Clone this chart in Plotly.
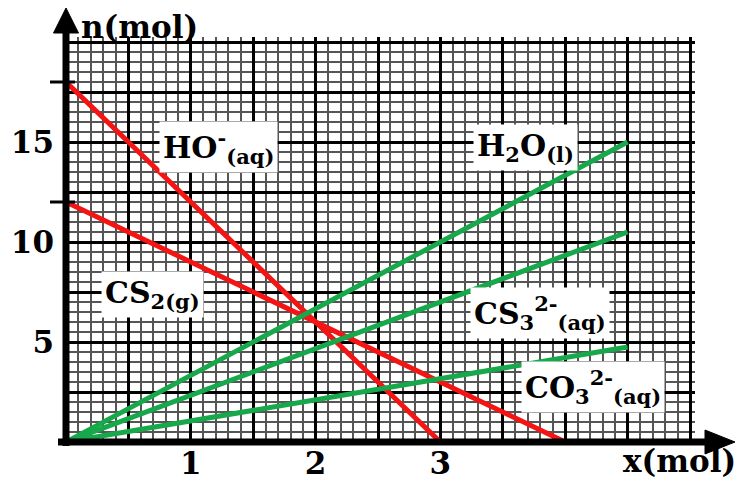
import numpy as np
import plotly.graph_objects as go

# ---- data ----
x_end_red_HO = [0, 3]
HO_vals = [18, 0]
x_end_red_CS2 = [0, 4]
CS2_vals = [12, 0]
x_green = [0, 4.5]
H2O_vals = [0, 15]
CS3_vals = [0, 10.5]
CO3_vals = [0, 4.75]

x_tick_vals = [1, 2, 3]
x_tick_text = ["1", "2", "3"]
y_tick_vals = [5, 10, 15]
y_tick_text = ["5", "10", "15"]
y_marks = [12, 18]

labels = ["HO<sup>-</sup><sub>(aq)</sub>", "H<sub>2</sub>O<sub>(l)</sub>", "CS<sub>2(g)</sub>",
          "CS<sub>3</sub><sup>2-</sup><sub>(aq)</sub>", "CO<sub>3</sub><sup>2-</sup><sub>(aq)</sub>"]
label_x = [1.22, 3.68, 0.69, 3.80, 4.22]
label_y = [14.75, 14.75, 7.4, 6.45, 2.75]

RED = "#f41414"
GREEN = "#17a84b"
FONT = "DejaVu Serif"

fig = go.Figure()
fig.add_trace(go.Scatter(x=x_end_red_HO, y=HO_vals, mode="lines", line=dict(color=RED, width=5), name="HO-"))
fig.add_trace(go.Scatter(x=x_end_red_CS2, y=CS2_vals, mode="lines", line=dict(color=RED, width=5), name="CS2"))
fig.add_trace(go.Scatter(x=x_green, y=H2O_vals, mode="lines", line=dict(color=GREEN, width=5), name="H2O"))
fig.add_trace(go.Scatter(x=x_green, y=CS3_vals, mode="lines", line=dict(color=GREEN, width=5), name="CS3"))
fig.add_trace(go.Scatter(x=x_green, y=CO3_vals, mode="lines", line=dict(color=GREEN, width=5), name="CO3"))

xmaj = list(np.round(np.arange(0, 5.001, 0.5), 2))
ymaj = list(np.round(np.arange(0, 20.001, 2.5), 2))
xtxt = [x_tick_text[x_tick_vals.index(v)] if v in x_tick_vals else "" for v in xmaj]
ytxt = [y_tick_text[y_tick_vals.index(v)] if v in y_tick_vals else "" for v in ymaj]

tickfont = dict(family=FONT, size=31, color="black", weight="bold")
fig.update_xaxes(range=[0, 5.04], tickmode="array", tickvals=xmaj, ticktext=xtxt, automargin=False,
                 showgrid=True, gridcolor="black", gridwidth=2.5, zeroline=False,
                 showline=False, ticks="", tickfont=tickfont, ticklabelstandoff=0,
                 minor=dict(tickmode="linear", tick0=0, dtick=0.1, showgrid=True,
                            gridcolor="#555555", gridwidth=1.5, ticks=""))
fig.update_yaxes(range=[0, 20.25], tickmode="array", tickvals=ymaj, ticktext=ytxt, automargin=False,
                 showgrid=True, gridcolor="black", gridwidth=2.5, zeroline=False,
                 showline=False, ticks="", tickfont=tickfont, ticklabelstandoff=11,
                 minor=dict(tickmode="linear", tick0=0, dtick=0.5, showgrid=True,
                            gridcolor="#555555", gridwidth=1.5, ticks=""))

# page body has an 8px margin; figure is sized to fit inside the window
W, H = 730, 472
ml, mt = 58, 29
pw, ph = 629, 405
mr, mb = W - ml - pw, H - mt - ph

def px(dx):
    return dx / pw

def py(dy):
    return dy / ph

shapes = []
shapes.append(dict(type="line", xref="paper", x0=0, x1=0, yref="paper", y0=py(-4), y1=1 + py(6),
                   line=dict(color="black", width=7)))
shapes.append(dict(type="line", xref="paper", yref="paper", y0=0, y1=0, x0=px(-8), x1=1 + px(14),
                   line=dict(color="black", width=7)))
shapes.append(dict(type="path", xref="paper", yref="paper",
                   path=f"M {px(-12.5)},{1 + py(4)} L {px(12.5)},{1 + py(4)} L 0,{1 + py(29)} Z",
                   fillcolor="black", line=dict(color="black", width=1)))
shapes.append(dict(type="path", xref="paper", yref="paper",
                   path=f"M {1 + px(10)},{py(-12)} L {1 + px(10)},{py(12)} L {1 + px(40)},0 Z",
                   fillcolor="black", line=dict(color="black", width=1)))
for v in y_marks:
    shapes.append(dict(type="line", yref="y", y0=v, y1=v, xref="paper", x0=px(-16), x1=px(9),
                       line=dict(color="black", width=3)))

annotations = []
for t, lx, ly in zip(labels, label_x, label_y):
    annotations.append(dict(x=lx, y=ly, xref="x", yref="y", text=t, showarrow=False,
                            bgcolor="white", borderpad=3,
                            font=dict(family=FONT, size=30, color="black", weight="bold")))
annotations.append(dict(x=px(80 - 66), y=1 + py(mt), xref="paper", yref="paper", xanchor="left",
                        yanchor="top", text="n(mol)", showarrow=False, borderpad=0,
                        font=dict(family=FONT, size=31, color="black", weight="bold")))
annotations.append(dict(x=1 + px(737 - 695), y=py(-mb), xref="paper", yref="paper", xanchor="right",
                        yanchor="bottom", text="x(mol)", showarrow=False, borderpad=0,
                        font=dict(family=FONT, size=31, color="black", weight="bold")))

fig.update_layout(width=W, height=H, margin=dict(l=ml, r=mr, t=mt, b=mb),
                  paper_bgcolor="white", plot_bgcolor="white", showlegend=False,
                  shapes=shapes, annotations=annotations)

fig.write_html("out.html")
